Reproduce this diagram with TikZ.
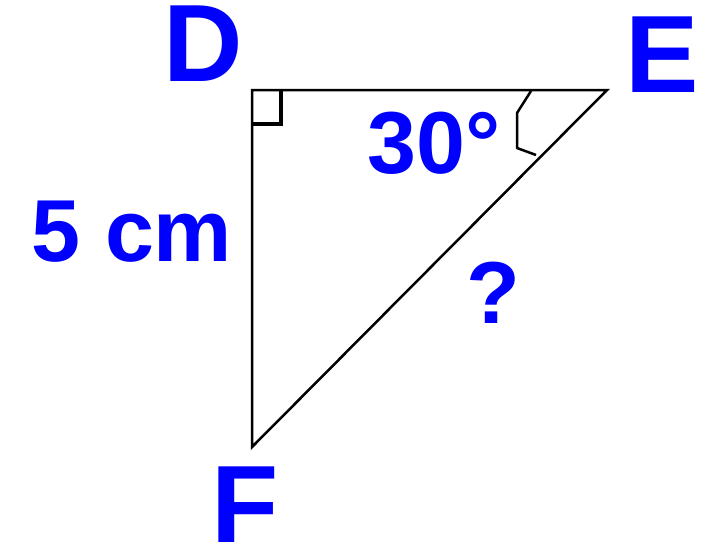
\documentclass[tikz,border=0pt]{standalone}
\usepackage{fontspec}
\setmainfont{Liberation Sans}
\definecolor{lblue}{RGB}{0,0,255}
\begin{document}
\begin{tikzpicture}[x=1pt,y=-1pt,
  vlabel/.style={inner sep=0pt, text=lblue, font=\fontsize{110}{110}\selectfont\bfseries},
  mlabel/.style={inner sep=0pt, text=lblue, font=\fontsize{88}{88}\selectfont\bfseries},
  edge/.style={line width=2.5pt, black, line join=miter}]
\useasboundingbox (0,0) rectangle (716,560);
\coordinate (D) at (252,90);
\coordinate (E) at (607,90);
\coordinate (F) at (252,447);
\draw[edge] (D) -- (E) -- (F) -- cycle;
% right angle mark
\coordinate (r1) at (281,90);
\coordinate (r2) at (281,124);
\coordinate (r3) at (252,124);
\draw[line width=3.5pt] (r1) -- (r2) -- (r3);
% angle mark at E
\coordinate (a1) at (531,91);
\coordinate (a2) at (517,113);
\coordinate (a3) at (517,148);
\coordinate (a4) at (536,155);
\draw[line width=2.5pt, line join=round] (a1) -- (a2) -- (a3) -- (a4);
% labels
\node[vlabel] (lD) at (203.5,43.5) {D};
\node[vlabel] (lE) at (662.5,55) {E};
\node[vlabel] (lF) at (245.5,504.5) {F};
\node[mlabel] (l5) at (132,231.5) {5 cm};
\node[mlabel] (l30) at (434,143) {30°};
\node[mlabel] (lq) at (493.5,293) {?};
\end{tikzpicture}
\end{document}
